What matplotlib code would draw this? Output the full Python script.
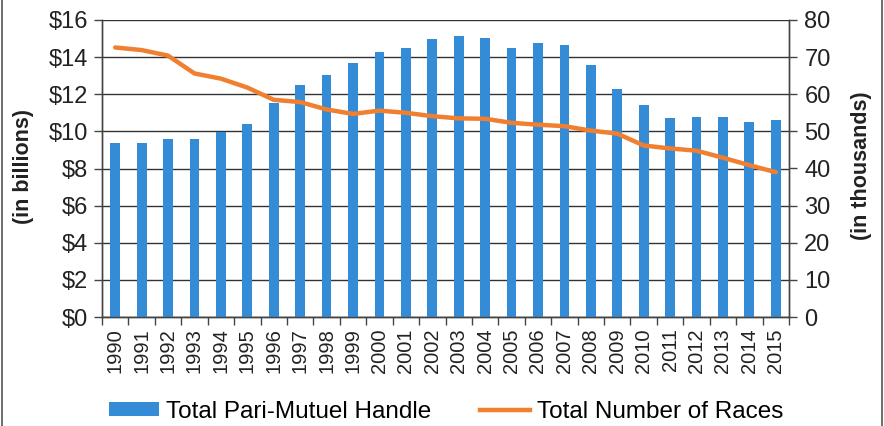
import matplotlib
matplotlib.use("Agg")
import matplotlib.pyplot as plt
from matplotlib.lines import Line2D
from matplotlib.patches import Patch
import numpy as np

plt.rcParams['font.family'] = ['Liberation Sans', 'DejaVu Sans']

years = [str(y) for y in range(1990, 2016)]
handle_billions = [9.37, 9.37, 9.6, 9.6, 9.95, 10.4, 11.55, 12.5, 13.05, 13.7, 14.3, 14.5,
                   15.0, 15.15, 15.05, 14.5, 14.75, 14.65, 13.6, 12.3, 11.4, 10.7, 10.8, 10.8,
                   10.5, 10.6]
races_thousands = [72.6, 71.9, 70.4, 65.6, 64.2, 61.8, 58.5, 57.9, 55.9, 54.7, 55.6, 55.0,
                   54.1, 53.5, 53.4, 52.3, 51.8, 51.4, 50.2, 49.4, 46.2, 45.4, 44.8, 42.9,
                   40.9, 39.0]
left_ticks = [0, 2, 4, 6, 8, 10, 12, 14, 16]
right_ticks = [0, 10, 20, 30, 40, 50, 60, 70, 80]

bar_color = '#348CD6'
line_color = '#F0802F'
grid_color = '#333333'

fig = plt.figure(figsize=(8.84, 4.26), dpi=100)
ax = fig.add_axes([102/884, 1 - 317/426, (789 - 102)/884, (317 - 20)/426])
ax2 = ax.twinx()

x = np.arange(len(years))
ax.bar(x, handle_billions, width=0.37, color=bar_color, zorder=3)
ax.set_ylim(0, 16)
ax.set_xlim(-0.5, len(years) - 0.5)
ax.set_yticks(left_ticks)
ax.set_yticklabels([f'${t}' for t in left_ticks], fontsize=17, color='#222222')
ax.yaxis.grid(True, color=grid_color, linewidth=1.0, zorder=0)
ax.set_axisbelow(True)

ax.set_xticks(x)
ax.set_xticklabels(years, rotation=90, fontsize=14.5, color='#222222')
ax.tick_params(axis='x', which='major', length=0, pad=8)
ax.set_xticks(np.arange(-0.5, len(years), 1.0), minor=True)
ax.tick_params(axis='x', which='minor', length=6, width=1.0, color='#444444', direction='out')
ax.tick_params(axis='y', length=6, width=1.0, color='#444444', pad=4)

ax2.plot(x, races_thousands, color=line_color, linewidth=3.2, zorder=4, solid_capstyle='round')
ax2.set_ylim(0, 80)
ax2.set_yticks(right_ticks)
ax2.set_yticklabels([str(t) for t in right_ticks], fontsize=17, color='#222222')
ax2.tick_params(axis='y', length=6, width=1.0, color='#444444', pad=5)

for a in (ax, ax2):
    a.spines['top'].set_visible(False)
    for s in ('left', 'right', 'bottom'):
        a.spines[s].set_color('#444444')
        a.spines[s].set_linewidth(1.0)

fig.text(24/884, 1 - 166/426, '(in billions)', rotation=90, fontsize=15.5, fontweight='bold',
         ha='center', va='center', color='#222222')
fig.text(862/884, 1 - 166/426, '(in thousands)', rotation=90, fontsize=15.5, fontweight='bold',
         ha='center', va='center', color='#222222')

handles = [Patch(facecolor=bar_color, edgecolor='none'),
           Line2D([0], [0], color=line_color, linewidth=3.2)]
labels = ['Total Pari-Mutuel Handle', 'Total Number of Races']
fig.legend(handles, labels, loc='center', bbox_to_anchor=(446/884, 1 - 412/426), ncol=2,
           frameon=False, fontsize=17.5, handlelength=2.05, handleheight=0.5, handletextpad=0.3,
           columnspacing=2.0, borderpad=0, borderaxespad=0)

fig.add_artist(Line2D([2/884, 2/884], [0, 1], color='#555555', linewidth=1.2))
fig.add_artist(Line2D([882/884, 882/884], [0, 1], color='#555555', linewidth=1.2))

fig.savefig('out.png', dpi=100)
